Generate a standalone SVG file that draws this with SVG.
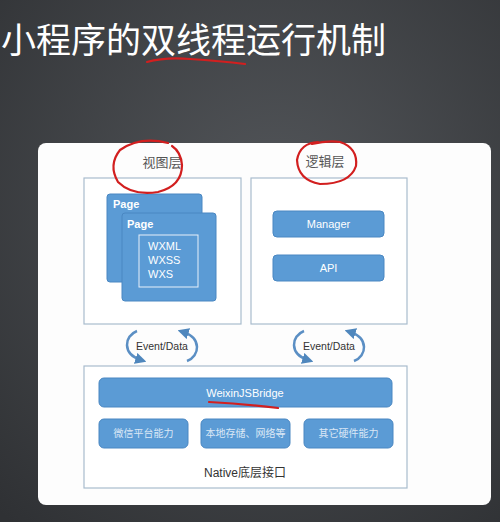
<svg xmlns="http://www.w3.org/2000/svg" width="500" height="522" viewBox="0 0 500 522">
<defs>
<radialGradient id="bg" cx="0.55" cy="0.4" r="0.8">
<stop offset="0" stop-color="#53565a"/>
<stop offset="1" stop-color="#2f3134"/>
</radialGradient>
<marker id="ah" viewBox="0 0 10 10" refX="5" refY="5" markerWidth="4.5" markerHeight="4.5" orient="auto">
<path d="M0,0 L10,5 L0,10 z" fill="#4f87bd"/>
</marker>
<style>
.frame{fill:#fff;stroke:#a9bccd;stroke-width:1.2}
.blue{fill:#5b9bd5;stroke:#4a87c2;stroke-width:1}
.cn{font-family:"Noto Sans CJK SC",sans-serif;fill:#555;font-size:13px;text-anchor:middle}
.en{font-family:"Liberation Sans","Open Sans",sans-serif;fill:#fff;font-size:11px}
.cnw{font-family:"Noto Sans CJK SC",sans-serif;fill:#dbe8f5;font-size:10px;text-anchor:middle}
.arc{fill:none;stroke:#5b8fc4;stroke-width:2.5;marker-end:url(#ah)}
.red{fill:none;stroke:#d21f1f;stroke-width:2.2;stroke-linecap:round}
.ed{font-family:"Liberation Sans",sans-serif;fill:#333;font-size:10.5px;text-anchor:middle}
</style>
</defs>
<rect width="500" height="522" fill="url(#bg)"/>
<text x="1" y="53" font-family="Noto Sans CJK SC,sans-serif" font-size="35" fill="#fff">小程序的双线程运行机制</text>
<path class="red" d="M147,62 Q165,57 190,59 Q220,61 245,64"/>
<rect x="38" y="143" width="453" height="362" rx="8" fill="#fdfdfd"/>

<g id="view-layer">
<rect class="frame" x="84" y="178" width="157" height="146"/>
<text class="cn" x="162" y="167">视图层</text>
</g>
<g id="page-back">
<rect class="blue" x="107" y="194" width="95" height="88" rx="3"/>
<text class="en" x="113" y="208" font-weight="bold">Page</text>
</g>
<g id="page-front">
<rect class="blue" x="122" y="213" width="94" height="88" rx="3"/>
<text class="en" x="127" y="228" font-weight="bold">Page</text>
<rect x="139" y="235" width="59" height="52" fill="none" stroke="#e8f0fa" stroke-width="1"/>
<text class="en" x="148" y="250">WXML</text>
<text class="en" x="148" y="264">WXSS</text>
<text class="en" x="148" y="278">WXS</text>
</g>

<g id="logic-layer">
<rect class="frame" x="251" y="178" width="156" height="146"/>
<text class="cn" x="325" y="166">逻辑层</text>
</g>
<g id="manager">
<rect class="blue" x="273" y="211" width="111" height="26" rx="4"/>
<text class="en" x="328.5" y="228" text-anchor="middle">Manager</text>
</g>
<g id="api">
<rect class="blue" x="273" y="255" width="111" height="26" rx="4"/>
<text class="en" x="328.5" y="272" text-anchor="middle">API</text>
</g>

<g id="native">
<rect class="frame" x="84" y="366" width="323" height="122"/>
<text x="245" y="477" text-anchor="middle" font-family="Liberation Sans,Noto Sans CJK SC,sans-serif" font-size="12" fill="#333">Native<tspan font-family="Noto Sans CJK SC,sans-serif">底层接口</tspan></text>
</g>
<g id="bridge">
<rect class="blue" x="99" y="378" width="293" height="29" rx="5"/>
<text class="en" x="245" y="397" text-anchor="middle" font-size="12">WeixinJSBridge</text>
</g>
<g id="wx-platform">
<rect class="blue" x="99" y="419" width="89" height="29" rx="5"/>
<text class="cnw" x="143.5" y="437">微信平台能力</text>
</g>
<g id="storage">
<rect class="blue" x="201" y="419" width="89" height="29" rx="5"/>
<text class="cnw" x="245.5" y="437">本地存储、网络等</text>
</g>
<g id="hardware">
<rect class="blue" x="304" y="419" width="89" height="29" rx="5"/>
<text class="cnw" x="348.5" y="437">其它硬件能力</text>
</g>

<g id="connectors">
<path class="arc" d="M137,331 C124,336 122,354 141,360"/>
<path class="arc" d="M187,361 C200,356 202,338 183,332"/>
<text class="ed" x="162" y="350">Event/Data</text>
<path class="arc" d="M304,331 C291,336 289,354 308,360"/>
<path class="arc" d="M354,361 C367,356 369,338 350,332"/>
<text class="ed" x="329" y="350">Event/Data</text>
</g>

<g id="annotations">
<path class="red" d="M168,143 Q140,136 120,150 Q108,165 118,182 Q132,196 158,192 Q182,186 182,165 Q181,152 172,146"/>
<path class="red" d="M318,142 Q300,143 297,160 Q298,180 320,184 Q350,184 356,166 Q358,148 340,142 Q328,140 312,144"/>
<path class="red" d="M209,402 Q245,404 278,408"/>
</g>
</svg>
